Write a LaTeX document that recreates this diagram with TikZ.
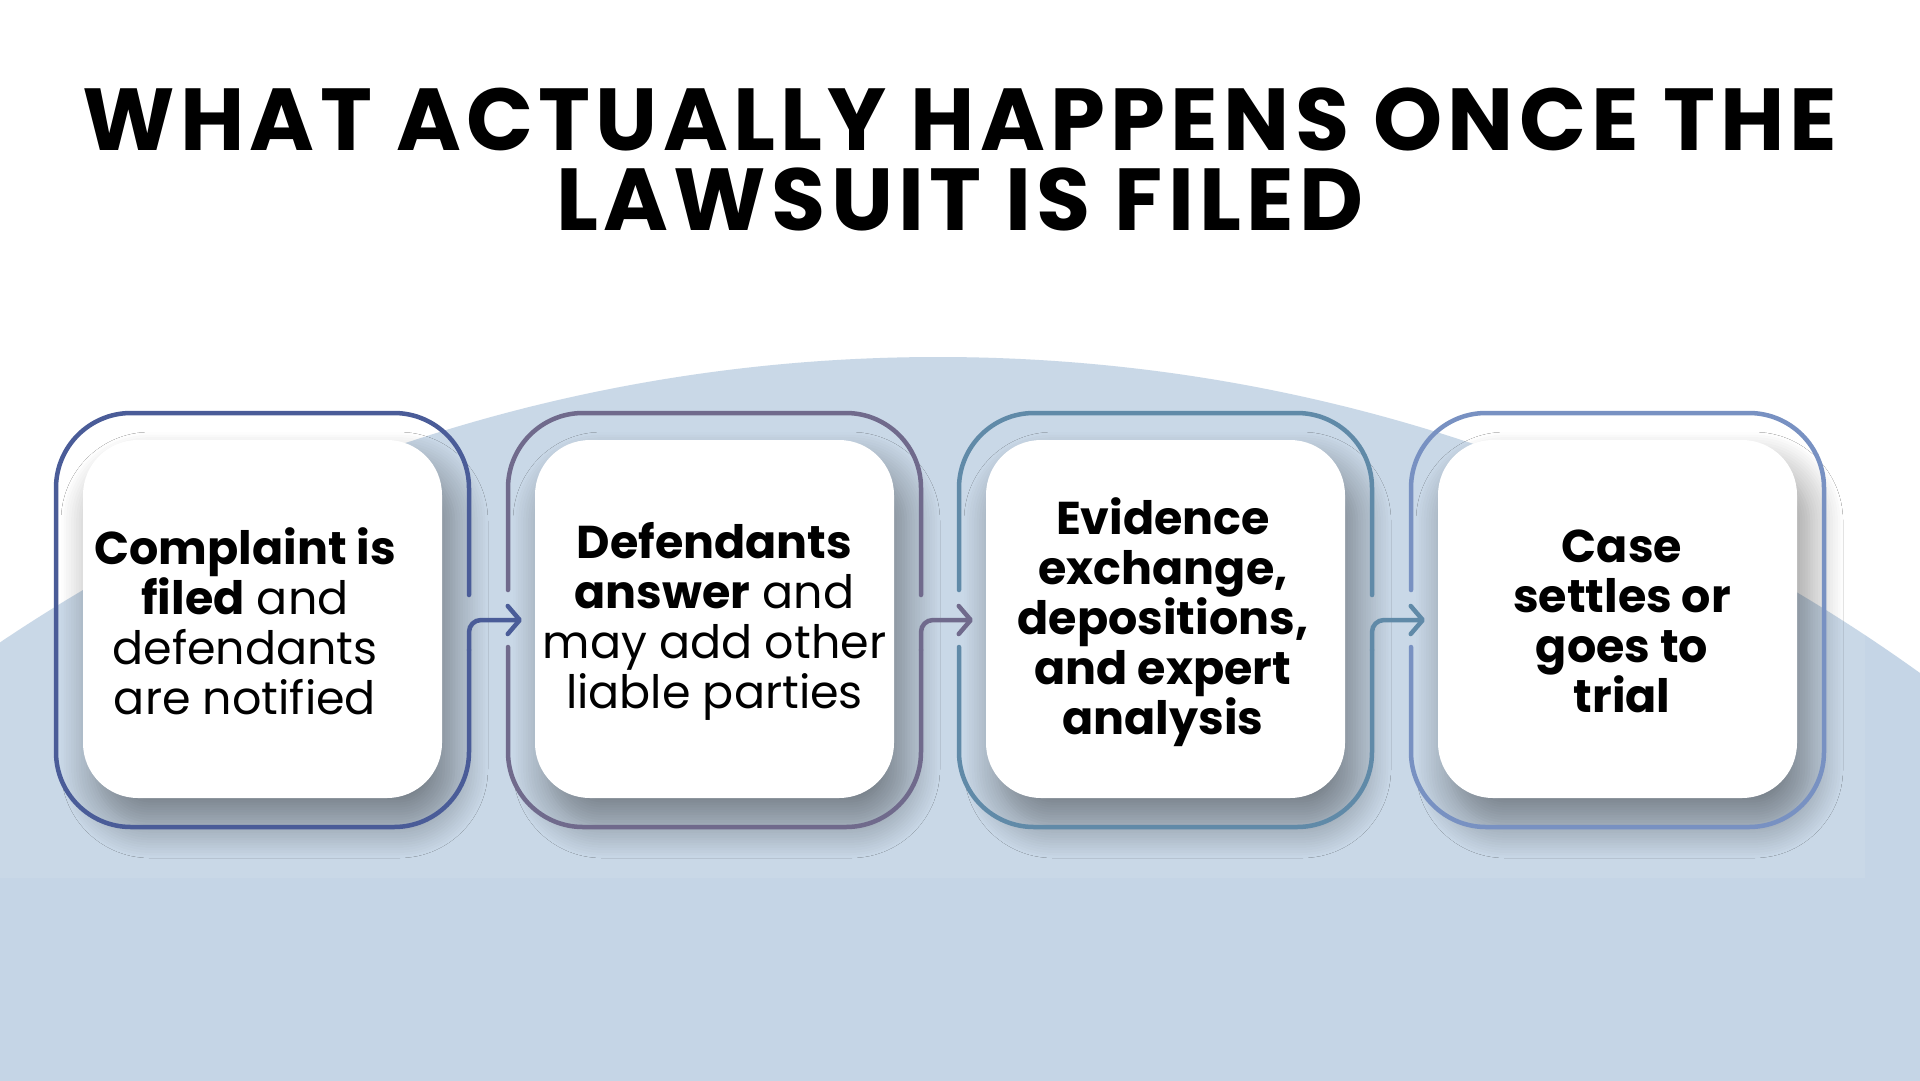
\documentclass[tikz,border=0pt]{standalone}
\usepackage{fontspec}
\setmainfont{Poppins}
\usetikzlibrary{calc,shadows.blur,arrows.meta}
\definecolor{bgblue}{RGB}{197,213,230}
\definecolor{cA}{RGB}{74,92,152}
\definecolor{cB}{RGB}{112,106,140}
\definecolor{cC}{RGB}{96,138,168}
\definecolor{cD}{RGB}{120,145,194}
\begin{document}
\begin{tikzpicture}[x=1pt,y=-1pt,
  ring/.style={minimum width=413pt,minimum height=414pt,inner sep=0pt,outer sep=0pt},
  card/.style={fill=white,rounded corners=55pt,minimum width=359pt,minimum height=358pt,inner sep=0pt,
    blur shadow={shadow xshift=12pt,shadow yshift=-26pt,shadow blur radius=34pt,shadow blur steps=14,shadow opacity=42}},
  txt/.style={align=center,font=\fontsize{46pt}{50pt}\selectfont,text=black,inner sep=0pt},
  edge/.style={line width=4.5pt,line cap=round,rounded corners=75pt},
  flow/.style={line width=4.5pt,line cap=round,rounded corners=12pt,
    -{Straight Barb[length=12pt,width=28pt,round]}},
  title/.style={align=center,font=\fontsize{88pt}{80pt}\selectfont\bfseries\addfontfeature{LetterSpace=6},text=black,inner sep=0pt}]
\useasboundingbox (0,0) rectangle (1920,1080);
\clip (0,0) rectangle (1920,1080);
\fill[white] (0,0) rectangle (1920,1080);
% background arc
\fill[bgblue] (938,2040) circle[radius=1683pt];
\fill[white,opacity=0.08] (0,340) rectangle (1865,878);
% title
\node[title] (ttl) at (960,159) {WHAT ACTUALLY HAPPENS ONCE THE\\LAWSUIT IS FILED};
% outer frames (invisible anchors)
\node[ring] (o1) at (262.5,620) {};
\node[ring] (o2) at (714.5,620) {};
\node[ring] (o3) at (1165.5,620) {};
\node[ring] (o4) at (1617.5,620) {};
% cards
\node[card] (b1) at (262.5,619) {};
\node[card] (b2) at (714.5,619) {};
\node[card] (b3) at (1165.5,619) {};
\node[card] (b4) at (1617.5,619) {};
% frames
\draw[edge,cA] ($(o1.east)+(0,-25)$) -- (o1.north east) -- (o1.north west) -- (o1.south west) -- (o1.south east) -- ($(o1.east)+(0,30)$);
\draw[edge,cB] ($(o2.east)+(0,-25)$) -- (o2.north east) -- (o2.north west) -- ($(o2.west)+(0,-30)$);
\draw[edge,cB] ($(o2.west)+(0,27)$) -- (o2.south west) -- (o2.south east) -- ($(o2.east)+(0,30)$);
\draw[edge,cC] ($(o3.east)+(0,-25)$) -- (o3.north east) -- (o3.north west) -- ($(o3.west)+(0,-30)$);
\draw[edge,cC] ($(o3.west)+(0,27)$) -- (o3.south west) -- (o3.south east) -- ($(o3.east)+(0,30)$);
\draw[edge,cD] ($(o4.west)+(0,27)$) -- (o4.south west) -- (o4.south east) -- (o4.north east) -- (o4.north west) -- ($(o4.west)+(0,-30)$);
% connectors
\draw[flow,cA] ($(o1.east)+(0,30)$) -- (o1.east) -- ($(o2.west)+(14,0)$);
\draw[flow,cB] ($(o2.east)+(0,30)$) -- (o2.east) -- ($(o3.west)+(14,0)$);
\draw[flow,cC] ($(o3.east)+(0,30)$) -- (o3.east) -- ($(o4.west)+(14,0)$);
% texts
\node[txt] (t1) at (245,621) {\textbf{Complaint is}\\\textbf{filed} and\\defendants\\are notified};
\node[txt] (t2) at (714.5,621) {\textbf{Defendants}\\\textbf{answer} and\\may add other\\liable parties};
\node[txt] (t3) at (1163,622) {\textbf{Evidence}\\\textbf{exchange,}\\\textbf{depositions,}\\\textbf{and expert}\\\textbf{analysis}};
\node[txt] (t4) at (1622,621) {\textbf{Case}\\\textbf{settles or}\\\textbf{goes to}\\\textbf{trial}};
\end{tikzpicture}
\end{document}
